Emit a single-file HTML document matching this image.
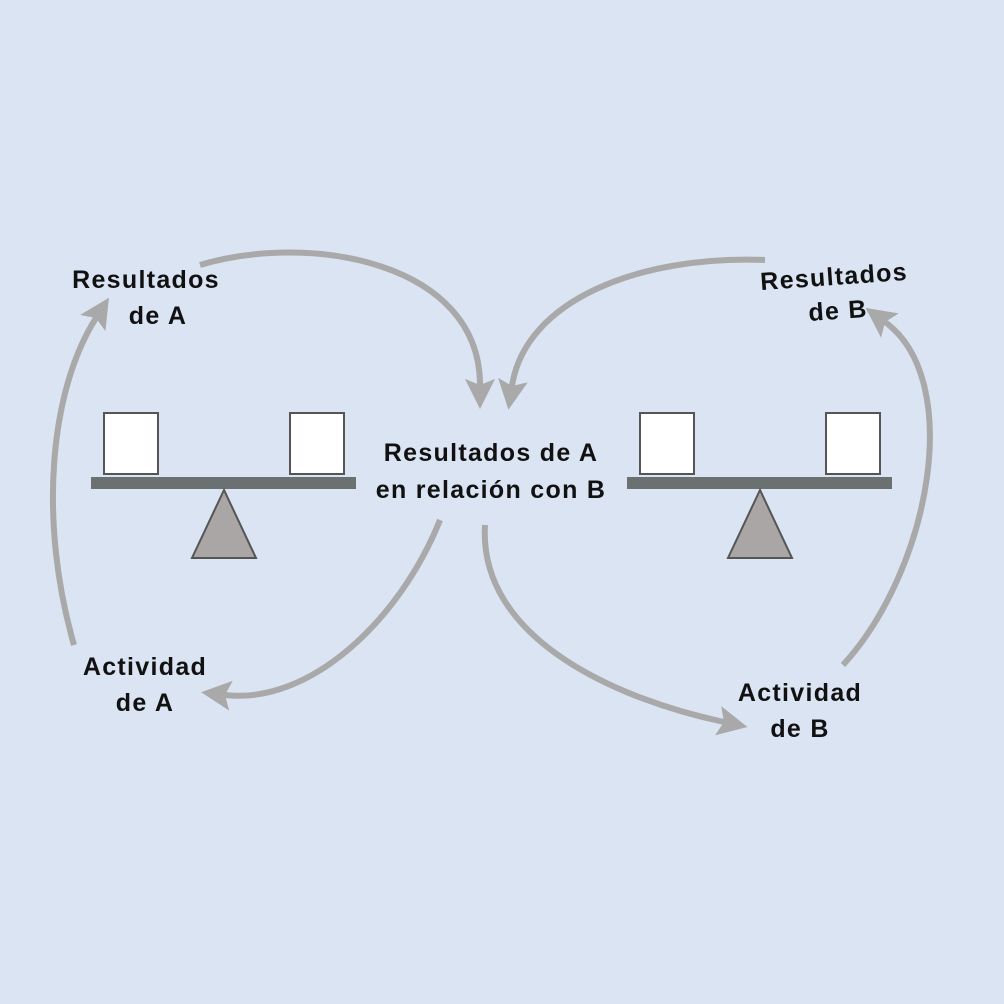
<!DOCTYPE html>
<html><head><meta charset="utf-8">
<style>
html,body{margin:0;padding:0;background:#dae4f3;}
svg{display:block;}
text{font-family:"Liberation Sans",sans-serif;font-weight:bold;font-size:25px;letter-spacing:1.3px;fill:#111;text-anchor:middle;}
</style></head>
<body>
<svg width="1004" height="1004" viewBox="0 0 1004 1004">
<defs>
<marker id="ah" markerWidth="5" markerHeight="5" refX="1" refY="2.5" orient="auto" markerUnits="strokeWidth">
<path d="M0,0 L5,2.5 L0,5 L1,2.5 Z" fill="#a9a9a9"/>
</marker>
</defs>
<rect width="1004" height="1004" fill="#dae4f3"/>
<g fill="none" stroke="#a9a9a9" stroke-width="6">
<path d="M74,645 C 38,520 50,390 96,318" marker-end="url(#ah)"/>
<path d="M200,265 C 310,232 480,262 480,385" marker-end="url(#ah)"/>
<path d="M440,520 C 400,620 310,705 225,695" marker-end="url(#ah)"/>
<path d="M765,260 C 640,255 525,300 512,386" marker-end="url(#ah)"/>
<path d="M485,525 C 478,640 620,700 724,722" marker-end="url(#ah)"/>
<path d="M843,665 C 930,570 965,380 885,322" marker-end="url(#ah)"/>
</g>
<rect x="91" y="477" width="265" height="12" fill="#6b7070"/>
<rect x="104" y="413" width="54" height="61" fill="#fff" stroke="#555" stroke-width="2"/>
<rect x="290" y="413" width="54" height="61" fill="#fff" stroke="#555" stroke-width="2"/>
<polygon points="224,490 192,558 256,558" fill="#aaa6a6" stroke="#555" stroke-width="2"/>
<rect x="627" y="477" width="265" height="12" fill="#6b7070"/>
<rect x="640" y="413" width="54" height="61" fill="#fff" stroke="#555" stroke-width="2"/>
<rect x="826" y="413" width="54" height="61" fill="#fff" stroke="#555" stroke-width="2"/>
<polygon points="760,490 728,558 792,558" fill="#aaa6a6" stroke="#555" stroke-width="2"/>
<text x="491" y="461">Resultados de A</text>
<text x="491" y="498">en relación con B</text>
<text x="146" y="288">Resultados</text>
<text x="158" y="324">de A</text>
<text x="834" y="285" transform="rotate(-4 834 276)">Resultados</text>
<text x="838" y="319" transform="rotate(-4 838 310)">de B</text>
<text x="145" y="675">Actividad</text>
<text x="145" y="711">de A</text>
<text x="800" y="701">Actividad</text>
<text x="800" y="737">de B</text>
</svg>
</body></html>
